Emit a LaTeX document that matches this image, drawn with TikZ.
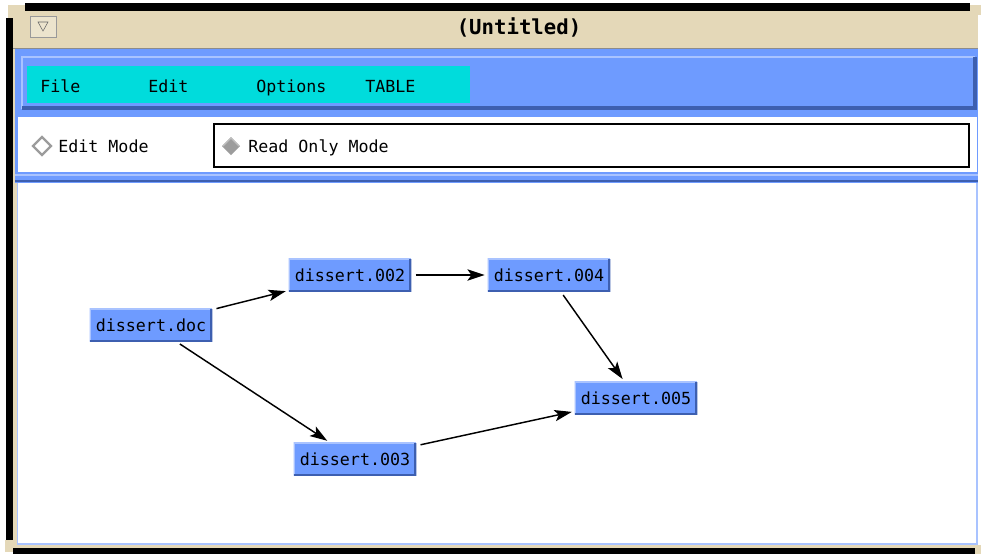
\documentclass[tikz,border=0pt]{standalone}
\usepackage{fontspec}
\setmonofont{DejaVu Sans Mono}
\usetikzlibrary{arrows.meta}
\definecolor{titlebeige}{HTML}{E4D8B8}
\definecolor{panelblue}{HTML}{6E9BFF}
\definecolor{paneldark}{HTML}{3D5FB0}
\definecolor{panellight}{HTML}{A9C3FF}
\definecolor{menucyan}{HTML}{00DCDC}
\definecolor{knobgray}{HTML}{9C9C9C}

\tikzset{
 uitext/.style={font=\ttfamily\fontsize{12.5}{14}\selectfont, inner sep=0pt, anchor=base west},
 docbox/.style={fill=panelblue, font=\ttfamily\fontsize{12.5}{14}\selectfont,
   minimum width=92pt, minimum height=24.75pt, inner sep=0pt,
   path picture={
     \draw[panellight, line width=2pt] (path picture bounding box.south west)
       -- (path picture bounding box.north west) -- (path picture bounding box.north east);
     \draw[paneldark, line width=3pt] (path picture bounding box.south west)
       -- (path picture bounding box.south east) -- (path picture bounding box.north east);
   }},
 link/.style={black, line width=1.1pt, -{Stealth[length=13pt,width=8.5pt,inset=3pt]},
   shorten <=3pt, shorten >=2pt}
}

\begin{document}
\begin{tikzpicture}[x=0.75pt, y=-0.75pt]
\useasboundingbox (0,0) rectangle (981,554);
\fill[white] (0,0) rectangle (981,554);
% window frame
\fill[titlebeige] (8,5) rectangle (978,549);
\fill[black] (25,3) rectangle (970,11);
\fill[black] (6,18) rectangle (13,540);
\fill[black] (13,548) rectangle (975,554);
\fill[titlebeige] (970,5) rectangle (981,15);
\fill[titlebeige] (975,545) rectangle (981,554);
\fill[titlebeige] (5,540) rectangle (13,552);
% title bar
\draw[black!45] (13,48.5) -- (978,48.5);
\draw[black!40, fill=titlebeige!70!white] (30,16) rectangle (56,37);
\draw[black!60] (38,22) -- (48,22) -- (43,31) -- cycle;
\node[font=\ttfamily\bfseries\fontsize{15.5}{17}\selectfont, inner sep=0pt] (title) at (519,27) {(Untitled)};
% menu panel
\fill[panelblue] (15,49) rectangle (978,183);
\fill[panelblue] (22,57) rectangle (975,109);
\draw[panellight, line width=1.5pt] (22,109) -- (22,57) -- (975,57);
\draw[paneldark, line width=2.5pt] (22,108) -- (975,108) -- (975,57);
\fill[menucyan] (27,66) rectangle (470,103);
\node[uitext] (file) at (40,92) {File};
\node[uitext] (edit) at (148,92) {Edit};
\node[uitext] (options) at (256,92) {Options};
\node[uitext] (table) at (365,92) {TABLE};
% mode strip
\fill[white] (18,117) rectangle (977,172);
\draw[panellight, line width=1.5pt] (15,175) -- (978,175);
\draw[paneldark, line width=1.5pt] (15,181) -- (978,181);
\draw[black, line width=1.6pt] (214,124) rectangle (969,167);
\draw[knobgray, line width=1.6pt, fill=white] (42,137) -- (51,146) -- (42,155) -- (33,146) -- cycle;
\fill[knobgray] (231,137) -- (240,146) -- (231,155) -- (222,146) -- cycle;
\draw[black!25, line width=1pt] (223,146) -- (231,138) -- (239,146);
\node[uitext] (editmode) at (58,152) {Edit Mode};
\node[uitext] (readonly) at (248,152) {Read Only Mode};
% canvas
\fill[white] (18,183) rectangle (977,544);
\draw[panellight, line width=1.2pt] (17.5,183) -- (17.5,544) -- (977,544) -- (977,183);
% documents
\node[docbox] (doc) at (151,325) {dissert.doc};
\node[docbox] (d002) at (350,275) {dissert.002};
\node[docbox] (d004) at (549,275) {dissert.004};
\node[docbox] (d005) at (636,398) {dissert.005};
\node[docbox] (d003) at (355,459) {dissert.003};
\draw[link] (doc) -- (d002);
\draw[link] (d002) -- (d004);
\draw[link] (d004) -- (d005);
\draw[link] (doc) -- (d003);
\draw[link] (d003) -- (d005);
\end{tikzpicture}
\end{document}
